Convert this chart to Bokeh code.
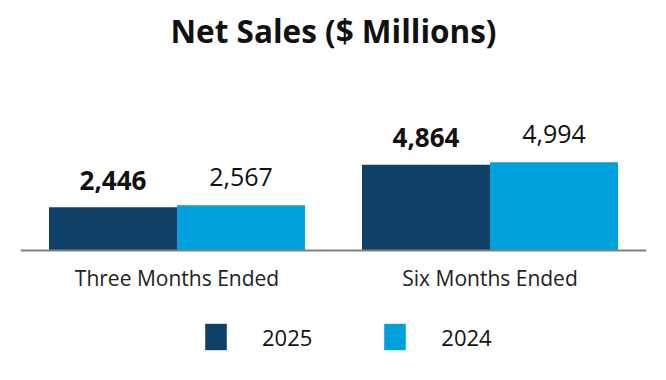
from bokeh.plotting import figure
from bokeh.models import ColumnDataSource, FactorRange, Range1d, Legend, LegendItem, Span
from bokeh.transform import dodge
from bokeh.core.properties import value
from bokeh.embed import file_html
from bokeh.resources import INLINE

categories = ["Three Months Ended", "Six Months Ended"]
sales_2025 = [2446, 4864]
sales_2024 = [2567, 4994]
series_names = ["2025", "2024"]

C25 = "#0e4068"
C24 = "#00a0dc"
FONT = "Open Sans"

src = ColumnDataSource(dict(
    cat=categories,
    zero=[0] * len(categories),
    v25=sales_2025,
    v24=sales_2024,
    l25=[f"{v:,}" for v in sales_2025],
    l24=[f"{v:,}" for v in sales_2024],
))

# frame spans y from the top border to the bottom of the figure; value 0 sits at the baseline
p = figure(x_range=FactorRange(*categories), y_range=Range1d(-7366, 10880),
           width=666, height=380, output_backend="svg", toolbar_location=None,
           min_border_left=20, min_border_right=20, min_border_top=58, min_border_bottom=0,
           title="Net Sales ($ Millions)")

p.title.text_font = FONT
p.title.text_font_size = "31.5px"
p.title.text_font_style = "bold"
p.title.align = "center"
p.title.text_color = "#111111"
p.title.standoff = 13

p.outline_line_color = None
p.xgrid.visible = False
p.ygrid.visible = False
p.yaxis.visible = False
p.xaxis.visible = False

baseline = Span(location=0, dimension="width", line_color="#808080", line_width=2)
p.add_layout(baseline)

W = 0.409
r25 = p.vbar(x=dodge("cat", -W / 2, range=p.x_range), top="v25", width=W, source=src,
             fill_color=C25, line_color=None)
r24 = p.vbar(x=dodge("cat", W / 2, range=p.x_range), top="v24", width=W, source=src,
             fill_color=C24, line_color=None)

# category labels under the baseline
p.text(x="cat", y="zero", text="cat", source=src,
       text_align="center", text_baseline="alphabetic", y_offset=27,
       text_font=value(FONT), text_font_size=value("21px"), text_color="#222222")

p.text(x=dodge("cat", -W / 2, range=p.x_range), y="v25", text="l25", source=src,
       text_align="center", text_baseline="alphabetic", y_offset=-27,
       text_font=value(FONT), text_font_size=value("26px"), text_font_style="bold",
       text_color="#111111")
p.text(x=dodge("cat", W / 2, range=p.x_range), y="v24", text="l24", source=src,
       text_align="center", text_baseline="alphabetic", y_offset=-28,
       text_font=value(FONT), text_font_size=value("25px"), text_font_style="normal",
       text_color="#111111")

legend = Legend(items=[LegendItem(label=series_names[0], renderers=[r25]),
                       LegendItem(label=series_names[1], renderers=[r24])],
                orientation="horizontal", location=(182, 27),
                glyph_width=27, glyph_height=33, label_standoff=33, spacing=69,
                padding=0, margin=0, border_line_color=None, background_fill_alpha=0,
                label_text_font=FONT, label_text_font_size="22px", label_text_color="#111111")
p.add_layout(legend)

open("out.html", "w").write(file_html(p, INLINE))
